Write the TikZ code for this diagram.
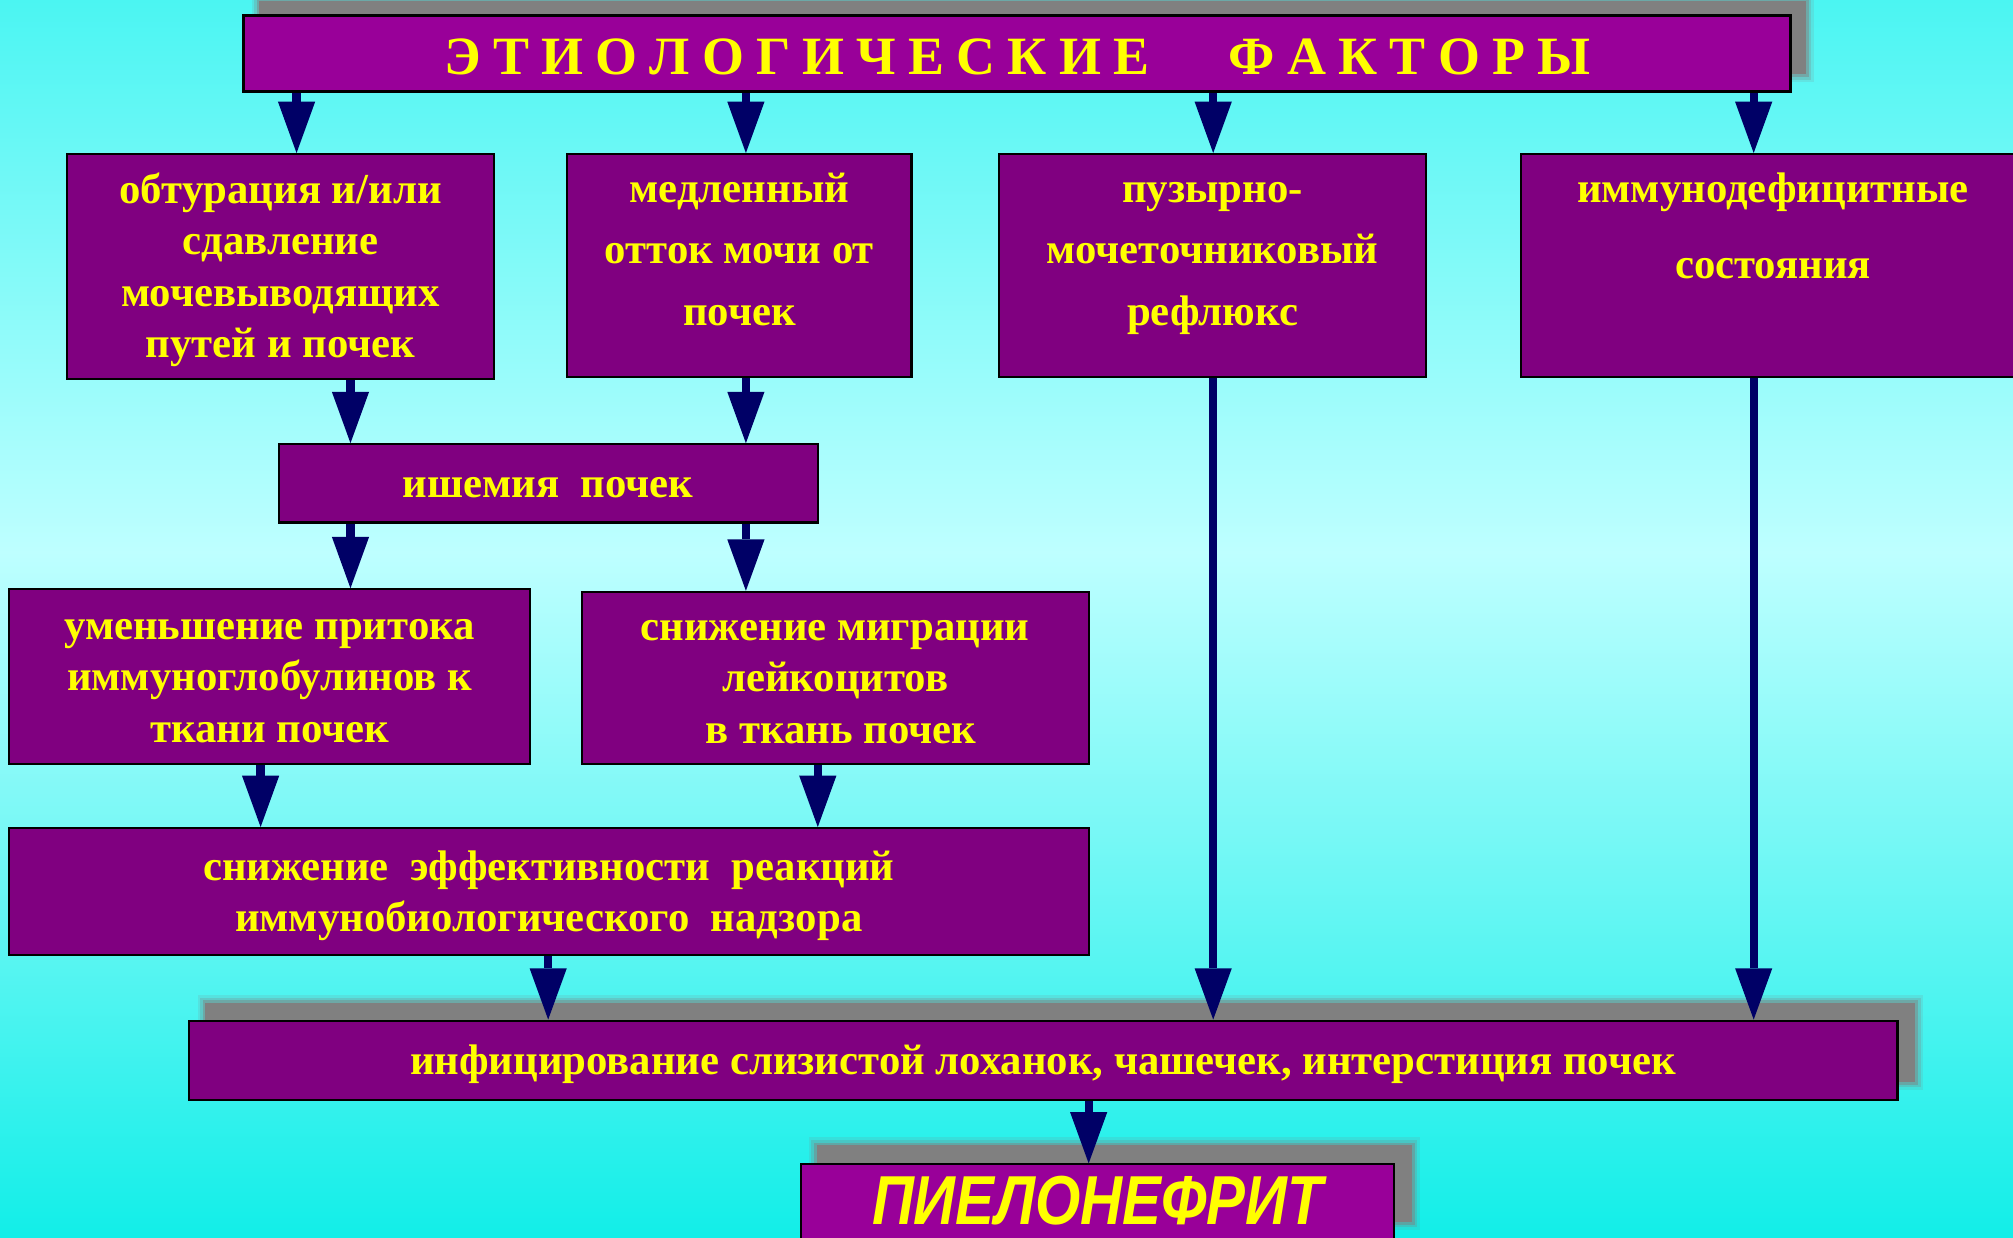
\documentclass[tikz,border=0pt]{standalone}
\usepackage{fontspec}
\usepackage{graphicx}
\setmainfont{Liberation Serif}
\newfontfamily\piefont{Liberation Sans}
\usetikzlibrary{arrows.meta}
\definecolor{bgtop}{RGB}{75,245,242}
\definecolor{bgmid}{RGB}{190,255,255}
\definecolor{bgbot}{RGB}{18,238,232}
\definecolor{boxfill}{RGB}{128,0,128}
\definecolor{boxhead}{RGB}{153,0,153}
\definecolor{txtcol}{RGB}{255,255,0}
\definecolor{arrcol}{RGB}{0,0,102}
\definecolor{shad}{RGB}{128,128,128}
\newcommand\sr{\rule[-9pt]{0pt}{40pt}}
\newcommand\lowr[1]{\rule[-#1]{0pt}{#1}}
\newcommand\lsp{\hspace{9.5pt}}
\newcommand\softshadow[4]{%
  \fill[shad,opacity=0.15] (#1-6,#2-6) rectangle (#3+6,#4+6);
  \fill[shad,opacity=0.25] (#1-4,#2-4) rectangle (#3+4,#4+4);
  \fill[shad,opacity=0.45] (#1-2,#2-2) rectangle (#3+2,#4+2);
  \fill[shad] (#1,#2) rectangle (#3,#4);}
\tikzset{
  box/.style={draw=black, line width=1.6pt, fill=boxfill, text=txtcol, align=center,
    inner sep=0pt, font=\bfseries\fontsize{33.3}{40}\selectfont},
  headbox/.style={box, fill=boxhead, line width=2.3pt},
  arr/.style={draw=arrcol, line width=6.5pt, -{Triangle[width=29pt,length=40pt,line width=0pt]}}
}
\begin{document}
\begin{tikzpicture}[x=1pt,y=-1pt]
\useasboundingbox (0,0) rectangle (1568,964);
\shade[top color=bgtop,bottom color=bgmid] (0,0) rectangle (1568,431);
\shade[top color=bgmid,bottom color=bgbot] (0,430) rectangle (1568,964);
% shadows
\softshadow{202}{1}{1407}{58}
\softshadow{160}{781}{1492}{843}
\softshadow{636}{892}{1100}{952}
% boxes
\node[headbox, minimum width=1205pt, minimum height=59pt, text height=33pt, text depth=0pt,
  font=\bfseries\fontsize{42}{48}\selectfont] (T) at (792.5,41.5)
  {Э\lsp Т\lsp И\lsp О\lsp Л\lsp О\lsp Г\lsp И\lsp Ч\lsp Е\lsp С\lsp К\lsp И\lsp Е\hspace{62pt}Ф\lsp А\lsp К\lsp Т\lsp О\lsp Р\lsp Ы};
\node[box, minimum width=333pt, minimum height=175pt] (A) at (218.5,207.5)
  {\sr обтурация и/или\\\sr сдавление\\\sr мочевыводящих\\\sr путей и почек};
\node[box, minimum width=268pt, minimum height=174pt] (B) at (576,207)
  {\sr медленный\\[8pt]\sr отток мочи от\\[8pt]\sr почек\lowr{34pt}};
\node[box, minimum width=333pt, minimum height=174pt] (C) at (944.5,207)
  {\sr пузырно-\\[8pt]\sr мочеточниковый\\[8pt]\sr рефлюкс\lowr{34pt}};
\node[box, minimum width=392pt, minimum height=174pt] (D) at (1381,207)
  {\sr иммунодефицитные\\[19pt]\sr состояния\lowr{70pt}};
\node[box, minimum width=420pt, minimum height=61pt] (I) at (427,376.5)
  {\sr ишемия \ почек};
\node[box, minimum width=406pt, minimum height=136pt] (U) at (210,527)
  {\sr уменьшение притока\\\sr иммуноглобулинов к\\\sr ткани почек};
\node[box, minimum width=395pt, minimum height=134pt] (M) at (650.5,528)
  {\sr снижение миграции\\\sr лейкоцитов\\\hspace*{9pt}\sr в ткань почек};
\node[box, minimum width=841pt, minimum height=99pt] (E) at (427.5,694.5)
  {\sr снижение \ эффективности \ реакций\\\sr иммунобиологического \ надзора};
\node[box, minimum width=1331pt, minimum height=62pt] (N) at (812.5,826)
  {\sr инфицирование слизистой лоханок, чашечек, интерстиция почек};
\node[headbox, line width=1.6pt, minimum width=462pt, minimum height=93pt, text height=30pt, text depth=30pt,
  font=\piefont\bfseries\itshape\fontsize{54}{60}\selectfont] (P) at (855,953.5)
  {\scalebox{0.84}[1]{ПИЕЛОНЕФРИТ}};
% arrow columns
\coordinate (x1) at (231,0);
\coordinate (x2) at (581,0);
\coordinate (x3) at (945,0);
\coordinate (x4) at (1366,0);
\coordinate (x5) at (273,0);
\coordinate (x6) at (203,0);
\coordinate (x7) at (637,0);
\coordinate (x8) at (427,0);
\coordinate (x9) at (848,0);
\draw[arr] (T.south -| x1) -- (A.north -| x1);
\draw[arr] (T.south -| x2) -- (B.north -| x2);
\draw[arr] (T.south -| x3) -- (C.north -| x3);
\draw[arr] (T.south -| x4) -- (D.north -| x4);
\draw[arr] (A.south -| x5) -- (I.north -| x5);
\draw[arr] (B.south -| x2) -- (I.north -| x2);
\draw[arr] (I.south -| x5) -- (U.north -| x5);
\draw[arr] (I.south -| x2) -- (M.north -| x2);
\draw[arr] (U.south -| x6) -- (E.north -| x6);
\draw[arr] (M.south -| x7) -- (E.north -| x7);
\draw[arr] (E.south -| x8) -- (N.north -| x8);
\draw[arr] (C.south -| x3) -- (N.north -| x3);
\draw[arr] (D.south -| x4) -- (N.north -| x4);
\draw[arr] (N.south -| x9) -- (P.north -| x9);
\end{tikzpicture}
\end{document}
